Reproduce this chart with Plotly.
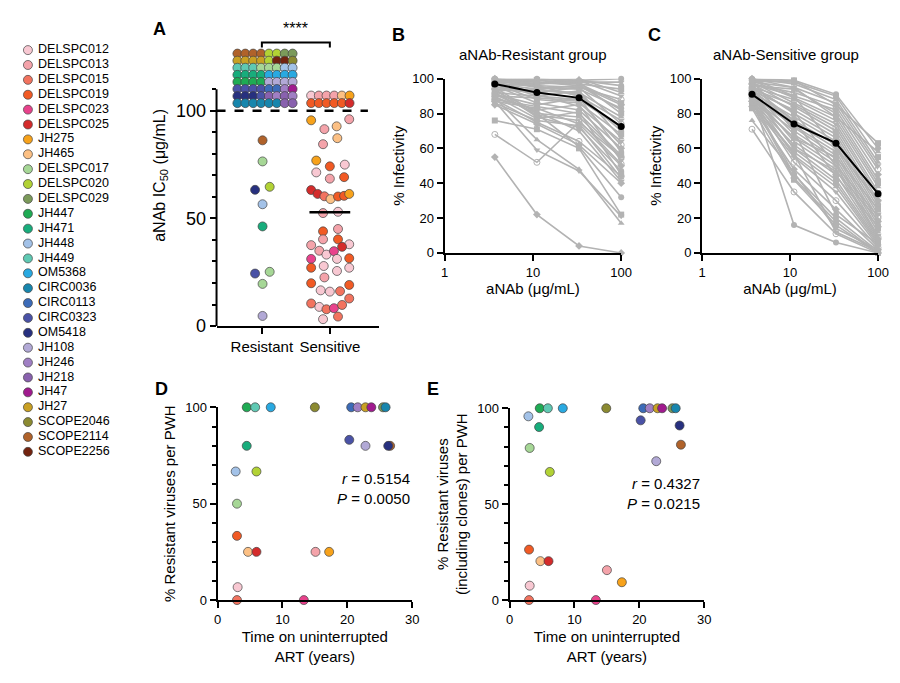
import plotly.graph_objects as go

FONT = "Liberation Sans, Arial, sans-serif"

patients = ["DELSPC012", "DELSPC013", "DELSPC015", "DELSPC019", "DELSPC023", "DELSPC025",
            "JH275", "JH465", "DELSPC017", "DELSPC020", "DELSPC029", "JH447", "JH471",
            "JH448", "JH449", "OM5368", "CIRC0036", "CIRC0113", "CIRC0323", "OM5418",
            "JH108", "JH246", "JH218", "JH47", "JH27", "SCOPE2046", "SCOPE2114", "SCOPE2256"]
colors = ["#f8c8d2", "#f4a3aa", "#f2735f", "#f15a24", "#e8428c", "#d42b2b",
          "#f7a21b", "#fcc084", "#a6d796", "#b2d235", "#7b9a5a", "#1fab54", "#18ad7c",
          "#a3c2e8", "#5fc9b3", "#29a9e1", "#1786ad", "#3c6bb8", "#4a52a6", "#27307f",
          "#b2a9d6", "#a07fc4", "#8961ae", "#a01a8e", "#c9a023", "#8b8a31", "#b0622a", "#72230f"]
C = dict(zip(patients, colors))

# ---- panel A data ----
res_x_off = [0.01, 0.01, -0.10, 0.115, 0.01, 0.01, -0.10, 0.115, 0.01, 0.01]
res_ic50 = [86.3, 76.5, 63.3, 64.7, 56.6, 46.3, 24.4, 25.2, 19.6, 4.7]
res_pid = ["SCOPE2114", "DELSPC017", "OM5418", "DELSPC020", "JH448", "JH471",
           "CIRC0323", "DELSPC017", "DELSPC017", "JH108"]

sen_x_off = [-0.275, -0.08, 0.10, 0.285, -0.10, 0.11, -0.20, 0.0, -0.20, 0.0, 0.22, 0.21,
             -0.275, -0.18, -0.08, 0.01, 0.12, 0.21, 0.285, -0.10, 0.12, -0.10, 0.12, -0.10,
             0.12, 0.285, -0.275, -0.155, -0.05, 0.06, 0.18, -0.275, -0.09, 0.105, 0.285,
             -0.275, -0.08, 0.105, 0.285, -0.275, -0.135, 0.0, 0.15, 0.285, -0.275, -0.155,
             -0.05, 0.06, 0.18, 0.285, -0.10, 0.12]
sen_ic50 = [95.6, 91.5, 92.8, 96.1, 84.5, 87.3, 76.9, 74.2, 71.4, 68.5, 75.0, 69.2,
            63.2, 61.4, 60.3, 59.0, 60.2, 60.5, 61.4, 52.5, 53.1, 44.0, 45.1, 40.3,
            40.3, 38.0, 37.6, 35.0, 33.2, 34.8, 36.8, 31.2, 27.9, 31.2, 31.5,
            27.1, 22.6, 25.6, 27.1, 19.9, 16.6, 16.0, 16.2, 19.1, 10.5, 8.9,
            7.8, 8.3, 9.8, 12.8, 3.2, 4.4]
sen_pid = ["JH275", "DELSPC013", "JH465", "DELSPC013", "DELSPC013", "JH465", "JH275", "DELSPC019",
           "DELSPC012", "DELSPC013", "DELSPC012", "DELSPC019", "DELSPC025", "DELSPC025", "DELSPC015",
           "JH465", "DELSPC019", "DELSPC019", "JH275", "DELSPC013", "DELSPC012", "DELSPC019",
           "DELSPC013", "DELSPC013", "DELSPC019", "DELSPC012", "DELSPC013", "DELSPC013",
           "DELSPC012", "DELSPC023", "DELSPC025", "DELSPC023", "DELSPC012", "DELSPC012",
           "DELSPC019", "DELSPC019", "DELSPC013", "DELSPC012", "DELSPC012", "DELSPC019",
           "DELSPC012", "DELSPC012", "DELSPC015", "DELSPC019", "DELSPC015", "DELSPC012",
           "DELSPC015", "DELSPC023", "DELSPC015", "DELSPC015", "DELSPC012", "DELSPC015"]
sen_median = 52.9

# viruses not reaching IC50 (>100), shown as stacked grid above the line
res_grid = [["SCOPE2114"] * 4 + ["DELSPC020", "DELSPC020", "DELSPC029", "DELSPC029"],
            ["JH27"] * 4 + ["DELSPC020", "SCOPE2256", "SCOPE2256", "SCOPE2046"],
            ["JH449"] * 3 + ["DELSPC017"] * 3 + ["JH448", "JH448"],
            ["JH471"] * 4 + ["OM5368"] * 4,
            ["JH447"] * 4 + ["JH108"] * 4,
            ["CIRC0323"] * 4 + ["CIRC0113", "CIRC0113", "JH246", "JH47"],
            ["OM5418"] * 3 + ["CIRC0323", "JH218", "JH246", "JH218", "JH246"],
            ["CIRC0036"] * 6 + ["JH218", "JH218"]]
sen_grid = [["DELSPC012", "DELSPC013", "DELSPC013", "DELSPC013", "JH465", "JH275"],
            ["DELSPC019"] * 5 + ["DELSPC025"]]

# ---- panels B, C data ----
conc = [3.7, 11.1, 33.3, 100]
res_curves = [
    [100, 100, 99, 100], [99, 98, 97, 94], [100, 99, 100, 92], [98, 97, 99, 90], [97, 96, 95, 88],
    [100, 98, 96, 85], [99, 95, 94, 83], [96, 97, 98, 80], [95, 93, 92, 78], [100, 96, 90, 76],
    [94, 92, 95, 74], [98, 90, 88, 72], [93, 94, 91, 70], [97, 88, 86, 68], [92, 90, 93, 66],
    [99, 91, 84, 64], [90, 89, 87, 62], [96, 86, 82, 60], [91, 85, 89, 58], [88, 84, 80, 56],
    [95, 80, 78, 55], [89, 82, 85, 53], [92, 79, 76, 51], [87, 83, 74, 50], [94, 78, 72, 47],
    [90, 77, 81, 45], [86, 76, 73, 43], [93, 81, 70, 41], [88, 75, 64, 44], [85, 74, 62, 40],
    [91, 80, 61, 32], [76, 71, 60, 22], [89, 65, 48, 17], [87, 59, 47, 21], [68, 52, 75, 55],
    [55, 22, 4, 0], [100, 97, 99, 96], [98, 99, 97, 86], [97, 94, 96, 82], [99, 100, 98, 98]]
res_mean = [97, 92, 89, 72.5]
sen_curves = [
    [100, 99, 91, 60], [99, 98, 90, 55], [100, 97, 88, 52], [98, 95, 86, 50], [97, 92, 84, 48],
    [100, 90, 82, 45], [96, 94, 80, 42], [99, 89, 78, 40], [95, 88, 76, 38], [98, 86, 74, 35],
    [94, 85, 72, 33], [97, 84, 70, 30], [93, 82, 68, 28], [96, 80, 66, 26], [92, 78, 64, 24],
    [95, 76, 62, 22], [91, 75, 60, 20], [90, 73, 58, 18], [94, 72, 56, 16], [89, 70, 54, 14],
    [93, 68, 52, 12], [88, 66, 50, 10], [92, 64, 48, 9], [87, 62, 45, 8], [91, 60, 42, 7],
    [86, 58, 40, 6], [90, 56, 38, 5], [85, 55, 35, 4], [89, 52, 30, 3], [84, 48, 25, 2],
    [88, 45, 20, 1], [83, 42, 16, 0], [76, 46, 14, 2], [86, 57, 12, 1], [71, 35, 11, 0],
    [87, 43, 18, 0], [90, 16, 6, 0], [98, 99, 85, 63], [100, 95, 78, 58], [97, 90, 60, 30],
    [95, 81, 50, 21], [93, 76, 44, 15], [99, 70, 22, 5], [89, 66, 55, 25], [92, 60, 47, 19]]
sen_mean = [91, 74, 63, 34]

# ---- panels D, E data ----
d_pid = ["JH447", "JH449", "OM5368", "SCOPE2046", "CIRC0113", "JH246", "JH27", "JH47", "DELSPC029",
         "CIRC0036", "JH471", "CIRC0323", "JH108", "SCOPE2114", "OM5418", "JH448", "DELSPC020",
         "DELSPC017", "DELSPC019", "JH465", "DELSPC025", "DELSPC013", "JH275", "DELSPC012",
         "DELSPC015", "DELSPC023"]
d_years = [4.5, 5.8, 8.2, 15.0, 20.6, 21.6, 22.8, 23.7, 25.5, 25.9, 4.5, 20.3, 22.8, 26.6, 26.3,
           2.8, 6.0, 3.0, 3.0, 4.7, 6.0, 15.1, 17.2, 3.1, 3.0, 13.3]
d_pct = [100, 100, 100, 100, 100, 100, 100, 100, 100, 100, 80, 83.1, 80, 80, 80,
         66.7, 66.7, 50, 33.3, 25, 25, 25, 25, 6.7, 0, 0]
e_years = [4.65, 5.9, 8.2, 14.9, 20.6, 21.6, 22.8, 23.5, 25.1, 25.6, 4.55, 20.2, 22.6, 26.4, 26.2,
           2.9, 6.2, 3.1, 3.0, 4.75, 6.0, 15.0, 17.3, 3.1, 3.0, 13.3]
e_pct = [100, 100, 100, 100, 100, 100, 100, 100, 100, 100, 90.2, 93.7, 72.4, 81, 91,
         95.8, 66.8, 79.3, 26.3, 20.3, 20.3, 15.6, 9.3, 7.5, 0, 0]

fig = go.Figure()
mk = dict(size=9, line=dict(color="#444444", width=0.7))

# legend column
fig.add_trace(go.Scatter(
    x=[0.12] * len(patients), y=list(range(len(patients))), mode="markers+text",
    text=[" " + p for p in patients], textposition="middle right",
    textfont=dict(size=12.5, family=FONT, color="black"),
    marker=dict(color=[C[p] for p in patients], **mk), xaxis="x6", yaxis="y6",
    cliponaxis=False, showlegend=False, hoverinfo="skip"))

# panel A
gx, gy, gc = [], [], []
for r, row in enumerate(res_grid):
    for c, p in enumerate(row):
        gx.append(0.64 + 0.116 * c); gy.append(126.6 - 3.29 * r); gc.append(C[p])
for r, row in enumerate(sen_grid):
    for c, p in enumerate(row):
        gx.append(1.725 + 0.113 * c); gy.append(107.1 - 3.5 * r); gc.append(C[p])
gx += [1 + o for o in res_x_off] + [2 + o for o in sen_x_off]
gy += res_ic50 + sen_ic50
gc += [C[p] for p in res_pid] + [C[p] for p in sen_pid]
fig.add_trace(go.Scatter(x=gx, y=gy, mode="markers", marker=dict(color=gc, **mk),
                         cliponaxis=False, showlegend=False))

# panels B, C
symbols = ["circle", "square", "triangle-up", "triangle-down", "circle-open", "diamond"]
for ax, curves, mean in [("2", res_curves, res_mean), ("3", sen_curves, sen_mean)]:
    for i, cv in enumerate(curves):
        fig.add_trace(go.Scatter(x=conc, y=cv, mode="lines+markers", xaxis="x" + ax, yaxis="y" + ax,
                                 line=dict(color="#b3b3b3", width=1.6),
                                 marker=dict(symbol=symbols[i % len(symbols)], size=6, color="#b3b3b3"),
                                 cliponaxis=False, showlegend=False))
    fig.add_trace(go.Scatter(x=conc, y=mean, mode="lines+markers", xaxis="x" + ax, yaxis="y" + ax,
                             line=dict(color="black", width=2), marker=dict(size=7, color="black"),
                             cliponaxis=False, showlegend=False))

# panels D, E
fig.add_trace(go.Scatter(x=d_years, y=d_pct, mode="markers", xaxis="x4", yaxis="y4",
                         marker=dict(color=[C[p] for p in d_pid], **mk), cliponaxis=False, showlegend=False))
fig.add_trace(go.Scatter(x=e_years, y=e_pct, mode="markers", xaxis="x5", yaxis="y5",
                         marker=dict(color=[C[p] for p in d_pid], **mk), cliponaxis=False, showlegend=False))

H = 683.0
def ydom(bot, top):
    return [(H - bot) / H, (H - top) / H]

axbase = dict(showline=True, linecolor="black", linewidth=2, ticks="outside", ticklen=6,
              tickwidth=2, tickcolor="black", showgrid=False, zeroline=False,
              tickfont=dict(size=13, family=FONT, color="black"))
minor10 = dict(tickvals=[10, 20, 30, 40, 60, 70, 80, 90], ticks="outside", ticklen=4,
               tickwidth=2, tickcolor="black")

fig.update_layout(
    width=900, height=683, margin=dict(l=0, r=0, t=0, b=0),
    plot_bgcolor="white", paper_bgcolor="white", font=dict(family=FONT, color="black"),
    xaxis=dict(axbase, domain=[208 / 900, 373 / 900], range=[0.333, 2.72], tickvals=[1, 2],
               ticktext=["Resistant", "Sensitive"], tickfont=dict(size=15, family=FONT)),
    yaxis=dict(axbase, domain=ydom(319, 10), range=[0, 140], showline=False, tickvals=[0, 50, 100],
               tickfont=dict(size=18, family=FONT),
               minor=dict(minor10, tickvals=[10, 20, 30, 40, 60, 70, 80, 90, 110]),
               title=dict(text="aNAb IC<sub>50</sub> (μg/mL)", font=dict(size=16), standoff=6)),
    xaxis2=dict(axbase, type="log", domain=[440 / 900, 619.5 / 900], range=[0, 2],
                tickvals=[1, 10, 100], ticktext=["1", "10", "100"], anchor="y2",
                title=dict(text="aNAb (μg/mL)", font=dict(size=15), standoff=4)),
    yaxis2=dict(axbase, domain=ydom(244, 65.3), range=[0, 100], dtick=20, anchor="x2",
                title=dict(text="% Infectivity", font=dict(size=15), standoff=4)),
    xaxis3=dict(axbase, type="log", domain=[701.7 / 900, 880.7 / 900], range=[0, 2],
                tickvals=[1, 10, 100], ticktext=["1", "10", "100"], anchor="y3",
                title=dict(text="aNAb (μg/mL)", font=dict(size=15), standoff=4)),
    yaxis3=dict(axbase, domain=ydom(244, 65.3), range=[0, 100], dtick=20, anchor="x3",
                title=dict(text="% Infectivity", font=dict(size=15), standoff=4)),
    xaxis4=dict(axbase, domain=[209 / 900, 407 / 900], range=[0, 30], dtick=10, anchor="y4",
                title=dict(text="Time on uninterrupted<br>ART (years)", font=dict(size=15), standoff=6)),
    yaxis4=dict(axbase, domain=ydom(600, 402.3), range=[0, 100], tickvals=[0, 50, 100], anchor="x4",
                minor=minor10,
                title=dict(text="% Resistant viruses per PWH", font=dict(size=15), standoff=6)),
    xaxis5=dict(axbase, domain=[506 / 900, 704 / 900], range=[0, 30], dtick=10, anchor="y5",
                title=dict(text="Time on uninterrupted<br>ART (years)", font=dict(size=15), standoff=6)),
    yaxis5=dict(axbase, domain=ydom(600, 403.3), range=[0, 100], tickvals=[0, 50, 100], anchor="x5",
                minor=minor10,
                title=dict(text="% Resistant viruses<br>(including clones) per PWH", font=dict(size=15),
                           standoff=6)),
    xaxis6=dict(domain=[0, 0.15], range=[0, 1], visible=False, anchor="y6"),
    yaxis6=dict(domain=ydom(448, 36), range=[27, 0], visible=False, anchor="x6"),
)

shapes = [
    dict(type="line", xref="x domain", yref="y", x0=0, x1=0, y0=0, y1=110, line=dict(color="black", width=2)),
    dict(type="line", xref="x", yref="y", x0=0.333, x1=2.56, y0=100, y1=100,
         line=dict(color="black", width=2.5, dash="dash")),
    dict(type="line", xref="x", yref="y", x0=1.7, x1=2.3, y0=sen_median, y1=sen_median,
         line=dict(color="black", width=2.5)),
    dict(type="path", xref="x", yref="y", path="M 1,129.4 L 1,131.7 L 2,131.7 L 2,129.4",
         line=dict(color="black", width=2)),
]
fig.update_layout(shapes=shapes)

ann = [
    dict(text="<b>A</b>", x=150 / 900, y=1 - 14 / H, size=18),
    dict(text="<b>B</b>", x=393 / 900, y=1 - 20 / H, size=18),
    dict(text="<b>C</b>", x=653 / 900, y=1 - 20 / H, size=18),
    dict(text="<b>D</b>", x=152 / 900, y=1 - 384 / H, size=18),
    dict(text="<b>E</b>", x=428 / 900, y=1 - 384 / H, size=18),
    dict(text="aNAb-Resistant group", x=530 / 900, y=1 - 41 / H, size=15),
    dict(text="aNAb-Sensitive group", x=787 / 900, y=1 - 41 / H, size=15),
    dict(text="****", x=(254 + 323) / 2 / 900, y=1 - 14 / H, size=16),
]
annotations = [dict(text=a["text"], x=a["x"], y=a["y"], xref="paper", yref="paper", showarrow=False,
                    xanchor="center", yanchor="middle",
                    font=dict(size=a["size"], family=FONT, color="black")) for a in ann]
annotations += [
    dict(text="<i>r</i> = 0.5154<br><i>P</i> = 0.0050", x=407 / 900, y=1 - 507 / H, xref="paper",
         yref="paper", xanchor="right", align="right", showarrow=False, font=dict(size=15, family=FONT)),
    dict(text="<i>r</i> = 0.4327<br><i>P</i> = 0.0215", x=702 / 900, y=1 - 512 / H, xref="paper",
         yref="paper", xanchor="right", align="right", showarrow=False, font=dict(size=15, family=FONT)),
]
fig.update_layout(annotations=annotations)

fig.write_html("out.html")
